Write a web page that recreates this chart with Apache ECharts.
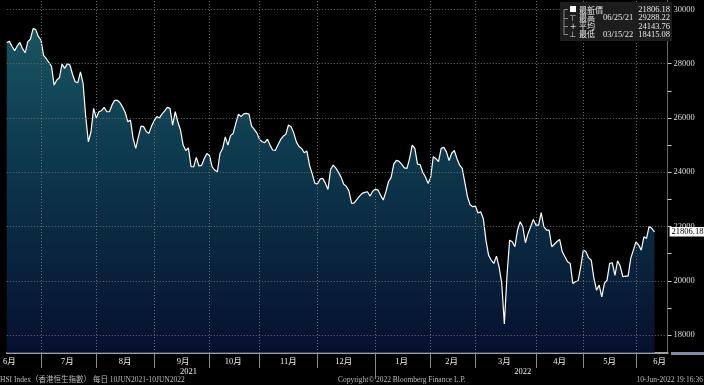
<!DOCTYPE html>
<html><head><meta charset="utf-8">
<script src="https://cdn.jsdelivr.net/npm/echarts@6/dist/echarts.min.js"></script>
<style>html,body{margin:0;padding:0;background:#000;}#c{width:704px;height:385px;}</style>
</head><body><div id="c"></div>
<script>
// HSI daily closes, one array per month (trading days)
const jun21 = [28780,28820,28640,28480,28650,28780,28550,28400,28810,28900,29288,29260,29000,28870];
const jul21 = [28300,28180,28050,27900,27210,27400,27480,27985,27825,28000,27950,27600,27334,27297,27700,27270,26045,25124,25492,26350,26000];
const aug21 = [26230,26266,26389,26229,26229,26480,26650,26650,26561,26400,26200,25861,25922,25240,24878,25300,25701,25680,25500,25431,25700,25900];
const sep21 = [26050,26000,26150,26260,26389,26352,25738,26229,25850,25550,25000,24800,24900,24203,24203,24547,24230,24252,24500,24694,24620];
const oct21 = [24200,24080,24018,24694,24878,25300,25001,25350,25430,25799,26140,26050,26150,26168,26144,25700,25580,25450,25211];
const nov21 = [25125,25088,25220,25000,24820,24800,25000,25200,25330,25400,25739,25677,25450,25120,24950,24879,24720,24780,24265,23950,23600,23560];
const dec21 = [23750,23774,23600,23369,24100,24265,24150,24000,23811,23560,23480,23300,22850,22870,23000,23120,23221,23260,23283,23123,23300,23380];
const jan22 = [23344,23150,22976,23283,23650,23811,24300,24440,24400,24302,24160,24142,24500,25002,24879,24302,24280,24000,23835,23590,23811];
const feb22 = [24572,24500,24388,24879,24916,24750,24430,24700,24800,24500,24265,24142,23620,23100,22800,22731,22755];
const mar22 = [22500,22546,22301,21500,20950,20766,20643,20913,20520,19906,18415,20200,21500,21441,21257,21871,22178,21994,21404,21748,21994,22264,22055];
const apr22 = [22055,22510,21994,21871,21871,21257,21350,21450,21527,21073,20889,20704,20643,19906,19968,20004,20520,21134];
const may22 = [21073,20850,20766,20100,19661,19845,19415,19906,20029,20643,20668,20200,20741,20545,20152,20177,20177,20827,21134,21441];
const jun22 = [21319,21134,21625,21564,22018,21932,21806.18];

const monthSeries = [jun21,jul21,aug21,sep21,oct21,nov21,dec21,jan22,feb22,mar22,apr22,may22,jun22];
const monthLabels = ['6月','7月','8月','9月','10月','11月','12月','1月','2月','3月','4月','5月','6月'];
const monthLabelIdx = [1,23,45,67,86,107,128,150,169,189,210,229,248];
const yearLabels = ['2021','2022'];
const yearLabelIdx = [69,196];
const yMajor = [18000,20000,22000,24000,26000,28000,30000];
const yMinor = [18000,19000,20000,21000,22000,23000,24000,25000,26000,27000,28000,29000,30000];
const legendNames = ['最新價','最高','平均','最低'];
const legendDates = ['','06/25/21','','03/15/22'];
const legendValues = ['21806.18','29288.22','24143.76','18415.08'];
const footerLeft = 'HSI Index（香港恒生指數） 每日 10JUN2021-10JUN2022';
const footerMid = 'Copyright© 2022 Bloomberg Finance L.P.';
const footerRight = '10-Jun-2022 19:16:36';

const values = [].concat(...monthSeries);
const padSlots = 5;
const data = values.concat(new Array(padSlots).fill(null));
const categories = data.map((_, i) => 'd' + i);
const monthEnds = [];
let acc = 0;
monthSeries.slice(0, -1).forEach(m => { acc += m.length; monthEnds.push(acc - 1); });
const yearEnd = monthEnds[6];
const lastValue = values[values.length - 1];
const labelMap = {};
monthLabelIdx.forEach((k, i) => labelMap[k] = monthLabels[i]);
const yearMap = {};
yearLabelIdx.forEach((k, i) => yearMap[k] = yearLabels[i]);

const serif = "'Liberation Serif','DejaVu Serif','Noto Sans CJK TC',serif";
const gridDotted = { type: [1, 2], color: '#6a6a6a', width: 1 };

const chart = echarts.init(document.getElementById('c'));
chart.setOption({
  backgroundColor: '#000',
  animation: false,
  grid: { left: 0.7, right: 36.4, top: 0, bottom: 32 },
  xAxis: [{
    type: 'category', data: categories, boundaryGap: false,
    axisLine: { show: true, lineStyle: { color: '#a0a0a0', width: 2 } },
    axisTick: { show: true, length: 15, interval: (i) => monthEnds.indexOf(i) >= 0, lineStyle: { color: '#8a8a8a' } },
    axisLabel: { show: true, interval: (i) => labelMap[i] !== undefined, formatter: (v, i) => labelMap[i] || '',
      color: '#eee', fontSize: 8.5, fontFamily: serif, margin: 5 },
    splitLine: { show: false }
  }, {
    type: 'category', data: categories, boundaryGap: false, position: 'bottom',
    axisLine: { show: false },
    axisTick: { show: true, length: 26, interval: (i) => i === yearEnd, lineStyle: { color: '#8a8a8a' } },
    axisLabel: { show: true, interval: (i) => yearMap[i] !== undefined, formatter: (v, i) => yearMap[i] || '',
      color: '#eee', fontSize: 8.5, fontFamily: serif, margin: 15 },
    splitLine: { show: false }
  }],
  yAxis: {
    type: 'value', position: 'right', min: 17345, max: 30343, scale: true,
    axisLine: { show: true, lineStyle: { color: '#666' } },
    axisTick: { show: true, length: 4, customValues: yMinor, lineStyle: { color: '#ccc' } },
    axisLabel: { show: true, customValues: yMajor, formatter: (v) => String(v), color: '#ddd', fontSize: 8.5, fontFamily: serif, margin: 6 },
    splitLine: { show: false }
  },
  series: [{
    type: 'line', data: data, symbol: 'none', connectNulls: false,
    lineStyle: { color: '#fff', width: 1.2 },
    areaStyle: { color: { type: 'linear', x: 0, y: 25, x2: 0, y2: 353, global: true,
      colorStops: [{ offset: 0, color: '#22798a' }, { offset: 0.45, color: '#124d6b' }, { offset: 1, color: '#091742' }] } },
    markLine: {
      silent: true, symbol: ['none', 'none'], animation: false,
      label: { show: false },
      lineStyle: gridDotted,
      data: yMajor.map(v => ({ yAxis: v }))
        .concat(monthEnds.map(k => ({ xAxis: categories[k] })))
        .concat([{ yAxis: lastValue, lineStyle: { color: 'rgba(0,0,0,0)', width: 0.01 },
          label: { show: true, position: 'end', distance: 2, formatter: () => lastValue.toFixed(2),
            backgroundColor: '#fff', color: '#000', fontSize: 8.5, fontFamily: serif, padding: [1, 2, 0, 2], opacity: 1 } }])
    }
  }],
  graphic: [
    { type: 'rect', shape: { x: 560, y: 2, width: 112, height: 39 }, style: { fill: '#1d1d1d' }, z: 10 },
    { type: 'polyline', shape: { points: [[568, 9.5], [564, 9.5], [564, 34.5], [568, 34.5]] }, style: { stroke: '#888', lineWidth: 1, fill: null }, z: 11 },
    { type: 'line', shape: { x1: 564, y1: 18.5, x2: 568, y2: 18.5 }, style: { stroke: '#888', lineWidth: 1 }, z: 11 },
    { type: 'line', shape: { x1: 564, y1: 26.5, x2: 568, y2: 26.5 }, style: { stroke: '#888', lineWidth: 1 }, z: 11 },
    { type: 'rect', shape: { x: 570, y: 6, width: 6, height: 6 }, style: { fill: '#fff' }, z: 11 },
    { type: 'text', x: 573, y: 18.5, style: { text: '⊤', fill: '#ddd', font: "8px 'DejaVu Sans'", align: 'center', verticalAlign: 'middle' }, z: 11 },
    { type: 'text', x: 573, y: 26.5, style: { text: '+', fill: '#ddd', font: "8px 'DejaVu Sans'", align: 'center', verticalAlign: 'middle' }, z: 11 },
    { type: 'text', x: 573, y: 34.5, style: { text: '⊥', fill: '#ddd', font: "8px 'DejaVu Sans'", align: 'center', verticalAlign: 'middle' }, z: 11 },
    ...legendNames.map((t, i) => ({ type: 'text', x: 579, y: 9.5 + i * 8.3,
      style: { text: t, fill: '#e6e6e6', font: "8px 'Noto Sans CJK TC'", verticalAlign: 'middle' }, z: 11 })),
    ...legendDates.map((t, i) => ({ type: 'text', x: 603, y: 9.8 + i * 8.3,
      style: { text: t, fill: '#e6e6e6', font: "8.5px 'Liberation Serif'", verticalAlign: 'middle' }, z: 11 })),
    ...legendValues.map((t, i) => ({ type: 'text', x: 670, y: 9.8 + i * 8.3,
      style: { text: t, fill: '#e6e6e6', font: "8.5px 'Liberation Serif'", align: 'right', verticalAlign: 'middle' }, z: 11 })),
    { type: 'rect', shape: { x: 671, y: 352, width: 33, height: 3 }, style: { fill: '#7f8ea6' }, z: 5 },
    { type: 'text', x: 0, y: 380, style: { text: footerLeft, fill: '#bbb', font: "7.5px 'Liberation Serif','Noto Sans CJK TC'", verticalAlign: 'middle' } },
    { type: 'text', x: 338, y: 380, style: { text: footerMid, fill: '#bbb', font: "7.5px 'Liberation Serif'", verticalAlign: 'middle' } },
    { type: 'text', x: 703, y: 380, style: { text: footerRight, fill: '#bbb', font: "7.5px 'Liberation Serif'", align: 'right', verticalAlign: 'middle' } }
  ]
});
</script></body></html>
